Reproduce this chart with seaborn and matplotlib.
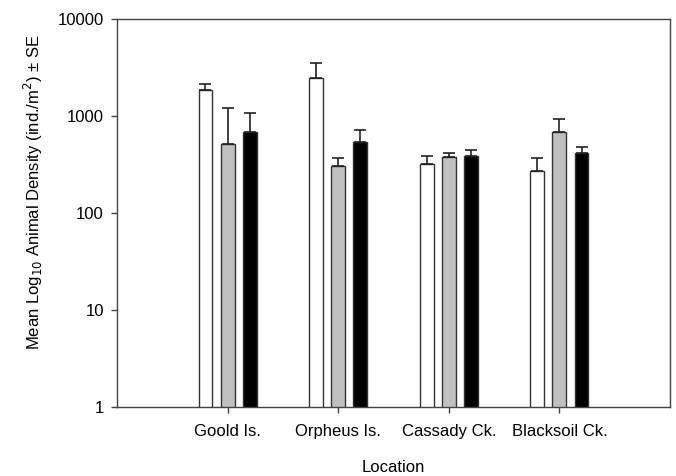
import pandas as pd
import numpy as np
import seaborn as sns
import matplotlib.pyplot as plt
from matplotlib.ticker import NullLocator, FixedLocator, FixedFormatter

# values (ind./m^2), three groups per location
locations = ["Goold Is.", "Orpheus Is.", "Cassady Ck.", "Blacksoil Ck."]
groups = ["A", "B", "C"]
mean_a = [1850, 2480, 320, 273]
mean_b = [511, 307, 375, 689]
mean_c = [679, 543, 384, 412]
se_a = [290, 1065, 70, 96]
se_b = [690, 64, 43, 236]
se_c = [403, 168, 59, 71]

means = [mean_a, mean_b, mean_c]
ses = [se_a, se_b, se_c]

df = pd.DataFrame({
    "Location": locations * 3,
    "group": np.repeat(groups, len(locations)),
    "density": mean_a + mean_b + mean_c,
})

sns.set_style("ticks")
plt.rcParams["font.family"] = ["Liberation Sans", "DejaVu Sans"]
plt.rcParams["text.color"] = "black"
plt.rcParams["axes.labelcolor"] = "black"
plt.rcParams["xtick.labelcolor"] = "black"
plt.rcParams["ytick.labelcolor"] = "black"

fig = plt.figure(figsize=(6.76, 4.76), dpi=100)
ax = fig.add_axes([117 / 676, 1 - 407 / 476, 553 / 676, 388 / 476])

sns.barplot(data=df, x="Location", y="density", hue="group", order=locations,
            hue_order=groups, palette=["white", "#c0c0c0", "black"],
            width=0.6, gap=0.37, edgecolor="#333333", linewidth=1,
            errorbar=None, legend=False, ax=ax)

# SE bars, upper side only
for cont, m, s in zip(ax.containers, means, ses):
    xs = [p.get_x() + p.get_width() / 2 for p in cont.patches]
    ax.errorbar(xs, m, yerr=[np.zeros(len(s)), s], fmt="none", ecolor="#222222",
                elinewidth=1.2, capsize=4.3, capthick=1.2, zorder=3)

ax.set_yscale("log")
ax.set_ylim(1, 10000)
ax.set_xlim(-1, 4)
ax.yaxis.set_major_locator(FixedLocator([1, 10, 100, 1000, 10000]))
ax.yaxis.set_major_formatter(FixedFormatter(["1", "10", "100", "1000", "10000"]))
ax.yaxis.set_minor_locator(NullLocator())

for sp in ax.spines.values():
    sp.set_color("#444444")
    sp.set_linewidth(1)

ax.tick_params(axis="both", labelsize=12, color="#444444", width=1, length=4.5)
ax.tick_params(axis="x", pad=8)
ax.tick_params(axis="y", pad=5)

ax.set_xlabel("Location", fontsize=12, labelpad=15)
ax.set_ylabel("Mean Log$_{10}$ Animal Density (ind./m$^2$) ± SE", fontsize=12)
ax.yaxis.set_label_coords(-0.13, 0.555)

fig.savefig("out.png", dpi=100)
